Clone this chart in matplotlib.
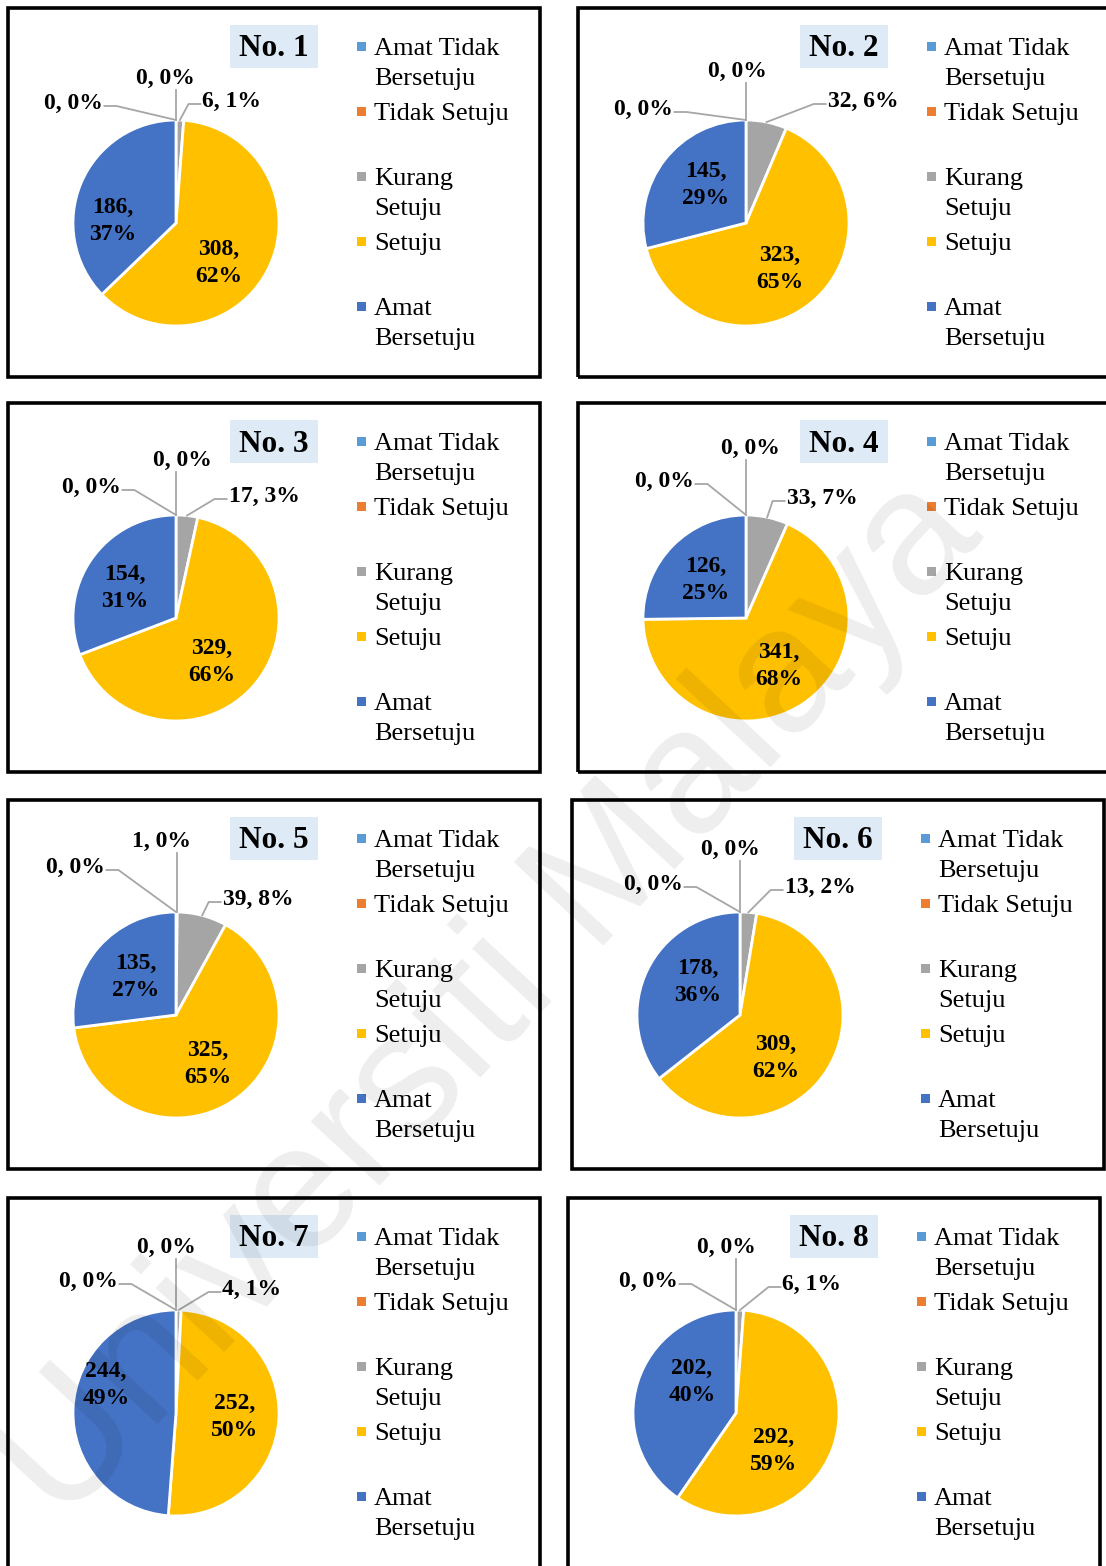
import numpy as np
import matplotlib.pyplot as plt
from matplotlib.patches import Rectangle

plt.rcParams['font.family'] = ['Liberation Serif', 'DejaVu Serif']

# ---- data ----
titles = ['No. 1', 'No. 2', 'No. 3', 'No. 4', 'No. 5', 'No. 6', 'No. 7', 'No. 8']
legend_lines = [['Amat Tidak', 'Bersetuju'], ['Tidak Setuju'], ['Kurang', 'Setuju'],
                ['Setuju'], ['Amat', 'Bersetuju']]
amat_tidak = [0, 0, 0, 0, 0, 0, 0, 0]
tidak_setuju = [0, 0, 0, 0, 1, 0, 0, 0]
kurang_setuju = [6, 32, 17, 33, 39, 13, 4, 6]
setuju = [308, 323, 329, 341, 325, 309, 252, 292]
amat_bersetuju = [186, 145, 154, 126, 135, 178, 244, 202]
# percentages as printed on the chart
pct_amat_tidak = [0, 0, 0, 0, 0, 0, 0, 0]
pct_tidak = [0, 0, 0, 0, 0, 0, 0, 0]
pct_kurang = [1, 6, 3, 7, 8, 2, 1, 1]
pct_setuju = [62, 65, 66, 68, 65, 62, 50, 59]
pct_amat = [37, 29, 31, 25, 27, 36, 49, 40]

colors = ['#5B9BD5', '#ED7D31', '#A5A5A5', '#FFC000', '#4472C4']

# ---- layout (pixels) ----
W, H = 1106, 1566
PW, PH = 532, 369
origins = [(8, 8), (578, 8), (8, 403), (578, 403),
           (8, 800), (572, 800), (8, 1198), (568, 1198)]
CX, CY, R = 168, 215, 103
outer_off = [
    [(-103, -120), (-11, -145), (56, -122)],
    [(-103, -114), (-9, -152), (117, -122)],
    [(-85, -131), (6, -158), (88, -122)],
    [(-82, -137), (4, -170), (76, -120)],
    [(-101, -148), (-14, -174), (82, -116)],
    [(-87, -131), (-10, -166), (80, -128)],
    [(-88, -132), (-10, -166), (76, -124)],
    [(-88, -132), (-10, -166), (76, -129)],
]
inner_off = [
    [(43, 40), (-63, -2)],
    [(34, 46), (-40, -38)],
    [(36, 44), (-51, -30)],
    [(33, 48), (-40, -38)],
    [(32, 49), (-40, -38)],
    [(36, 43), (-42, -33)],
    [(59, 4), (-70, -28)],
    [(38, 38), (-44, -31)],
]

fig = plt.figure(figsize=(W / 100, H / 100), dpi=100)
fig.patch.set_facecolor('white')

panels = []
for i in range(8):
    x0, y0 = origins[i]
    ax = fig.add_axes([x0 / W, 1 - (y0 + PH) / H, PW / W, PH / H])
    vals = [amat_tidak[i], tidak_setuju[i], kurang_setuju[i], setuju[i], amat_bersetuju[i]]
    pcts = [pct_amat_tidak[i], pct_tidak[i], pct_kurang[i], pct_setuju[i], pct_amat[i]]
    cy = PH - CY
    ax.pie(vals, colors=colors, startangle=90, counterclock=False,
           center=(CX, cy), radius=R,
           wedgeprops=dict(edgecolor='white', linewidth=2))
    ax.set_xlim(0, PW)
    ax.set_ylim(0, PH)
    ax.set_aspect('auto')
    ax.axis('off')
    ax.add_patch(Rectangle((0, 0), PW, PH, fill=False, edgecolor='black',
                           linewidth=2.6, clip_on=False, zorder=5))

    # title box
    ax.add_patch(Rectangle((222, PH - 60), 88, 43, facecolor='#DEEBF7',
                           edgecolor='none', zorder=3))
    ax.text(266, PH - 41, titles[i], ha='center', va='center', fontsize=22.5,
            fontweight='bold', zorder=4)

    # legend
    for k, lines in enumerate(legend_lines):
        yb = PH - (47 + 65 * k)
        ax.add_patch(Rectangle((349, yb + 4), 9, 9, facecolor=colors[k],
                               edgecolor='none', zorder=3))
        for j, ln in enumerate(lines):
            ax.text(366, yb - 30 * j, ln, ha='left', va='baseline', fontsize=19, zorder=4)

    # inside labels
    for k, (dx, dy) in zip([3, 4], inner_off[i]):
        ax.text(CX + dx, cy - dy, f'{vals[k]},\n{pcts[k]}%', ha='center', va='center',
                fontsize=17, fontweight='bold', linespacing=1.38, zorder=4)

    # outside labels
    outer = []
    for k in range(3):
        dx, dy = outer_off[i][k]
        t = ax.text(CX + dx, cy - dy, f'{vals[k]}, {pcts[k]}%', ha='center', va='center',
                    fontsize=17, fontweight='bold', zorder=4)
        outer.append(t)
    panels.append((ax, vals, cy, outer))

fig.canvas.draw()
rend = fig.canvas.get_renderer()
for ax, vals, cy, outer in panels:
    inv = ax.transData.inverted()
    total = float(sum(vals))
    cum = np.cumsum([0] + vals[:-1])
    pts = []
    for k in range(3):
        mid = np.deg2rad(90 - (cum[k] + vals[k] / 2) / total * 360)
        pts.append((CX + R * np.cos(mid), cy + R * np.sin(mid)))
    bbs = [t.get_window_extent(rend).transformed(inv) for t in outer]
    lc = '#A6A6A6'
    # left label
    b = bbs[0]
    ym = (b.y0 + b.y1) / 2 - 3
    ax.plot([b.x1 + 2, b.x1 + 14, pts[0][0]], [ym, ym, pts[0][1]], color=lc, lw=1.3, zorder=2)
    # top label
    b = bbs[1]
    ax.plot([pts[1][0], pts[1][0]], [b.y0 - 1, pts[1][1]], color=lc, lw=1.3, zorder=2)
    # right label
    b = bbs[2]
    ym = (b.y0 + b.y1) / 2 - 3
    ax.plot([b.x0 - 2, b.x0 - 14, pts[2][0]], [ym, ym, pts[2][1]], color=lc, lw=1.3, zorder=2)

# watermark
fig.text(490 / W, 1 - 1000 / H, 'Universiti Malaya', ha='center', va='center',
         rotation=47, fontsize=128, family='Liberation Sans', color='black',
         alpha=0.07, zorder=10)

fig.savefig('out.png', dpi=100)
